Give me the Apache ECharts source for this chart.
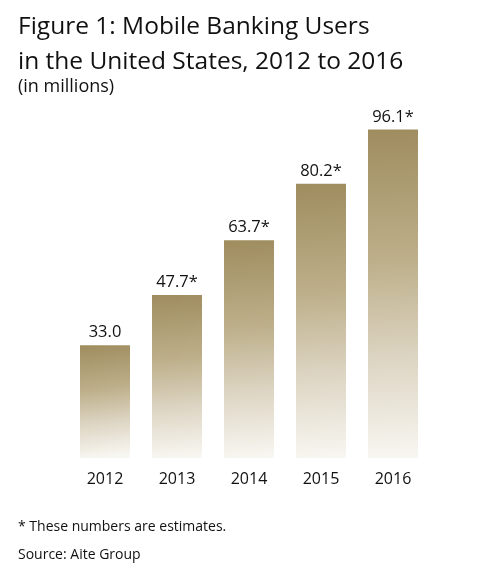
<!DOCTYPE html>
<html>
<head>
<meta charset="utf-8">
<script src="https://cdn.jsdelivr.net/npm/echarts@6/dist/echarts.min.js"></script>
<style>
  html, body { margin: 0; padding: 0; background: #fff; }
  #main { width: 500px; height: 571px; }
</style>
</head>
<body>
<div id="main"></div>
<script>
var years = ['2012', '2013', '2014', '2015', '2016'];
var users = [33.0, 47.7, 63.7, 80.2, 96.1];
var valueLabels = ['33.0', '47.7*', '63.7*', '80.2*', '96.1*'];

var font = '"Open Sans", "Noto Sans", sans-serif';

var barFill = new echarts.graphic.LinearGradient(0, 0, 0.25, 1, [
    { offset: 0, color: '#9f8d5f' },
    { offset: 0.4, color: '#bdaf8a' },
    { offset: 0.7, color: '#ddd5c3' },
    { offset: 1, color: '#f8f6f1' }
]);

var myChart = echarts.init(document.getElementById('main'));
var option = {
    backgroundColor: '#fff',
    animation: false,
    title: [
        {
            text: 'Figure 1: Mobile Banking Users\nin the United States, 2012 to 2016',
            left: 13, top: 5,
            textStyle: { fontFamily: font, fontSize: 24.5, fontWeight: 'normal', color: '#111', lineHeight: 35 }
        },
        {
            text: '(in millions)',
            left: 13, top: 73,
            textStyle: { fontFamily: font, fontSize: 18, fontWeight: 'normal', color: '#111' }
        },
        {
            text: '* These numbers are estimates.',
            left: 13, top: 515,
            textStyle: { fontFamily: font, fontSize: 14, fontWeight: 'normal', color: '#111' }
        },
        {
            text: 'Source: Aite Group',
            left: 13, top: 543,
            textStyle: { fontFamily: font, fontSize: 14, fontWeight: 'normal', color: '#111' }
        }
    ],
    grid: { left: 69, right: 71, top: 99, bottom: 113 },
    xAxis: {
        type: 'category',
        data: years,
        axisLine: { show: false },
        axisTick: { show: false },
        axisLabel: { margin: 13, fontFamily: font, fontSize: 16, color: '#111' }
    },
    yAxis: {
        type: 'value',
        min: 0, max: 105,
        show: false,
        splitLine: { show: false }
    },
    series: [{
        type: 'bar',
        data: users,
        barWidth: 50,
        itemStyle: { color: barFill },
        label: {
            show: true,
            position: 'top',
            distance: 4,
            fontFamily: font,
            fontSize: 16.5,
            color: '#111',
            formatter: function (p) { return valueLabels[p.dataIndex]; }
        }
    }]
};
myChart.setOption(option);
</script>
</body>
</html>
